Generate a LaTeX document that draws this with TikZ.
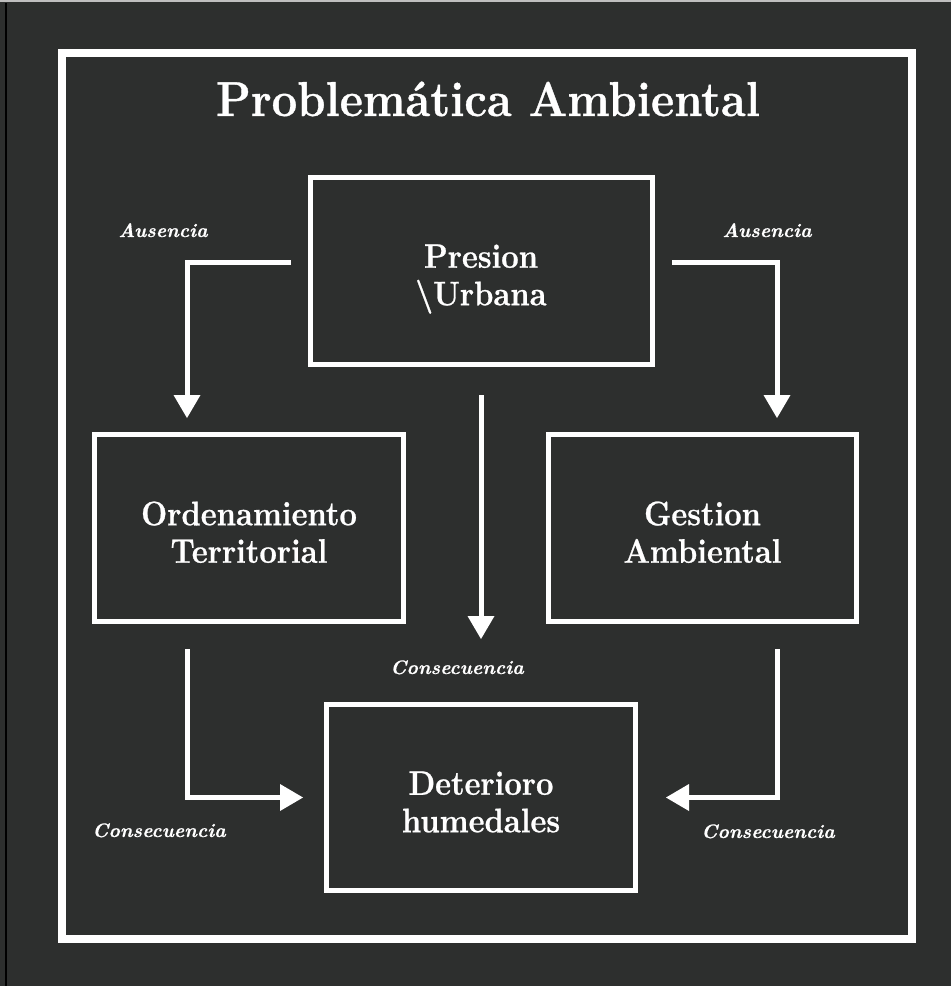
\documentclass[tikz,border=0pt]{standalone}
\usepackage{graphicx}
\usepackage{fontspec}
\setmainfont{Latin Modern Roman}[BoldFeatures={FakeBold=0.8},BoldItalicFeatures={FakeBold=0.5}]
\usetikzlibrary{arrows.meta,calc}
\definecolor{bgc}{HTML}{2D2F2E}
\newcommand\mylbl[1]{\raisebox{-8.5pt}[\height][\depth]{\scalebox{0.91}[1]{\begin{tabular}{@{}c@{}}#1\end{tabular}}}}
\tikzset{
  boxnode/.style={draw=white, line width=5pt, outer sep=0pt, inner sep=0pt,
    minimum width=309pt, minimum height=187pt, text=white, align=center,
    font=\fontsize{34}{37.5}\selectfont\bfseries},
  arr/.style={draw=white, line width=5pt, line join=miter,
    -{Triangle[width=27pt,length=23pt,line width=0pt]}},
  lbl/.style={text=white, anchor=base, inner sep=0pt,
    font=\fontsize{19.5}{22}\selectfont\bfseries\itshape}
}
\begin{document}
\begin{tikzpicture}[x=1pt,y=-1pt]
\fill[bgc] (0,0) rectangle (951,986);
\useasboundingbox (0,0) rectangle (951,986);
\draw[black, line width=1.5pt] (6,3) -- (6,986);
\draw[gray!50, line width=2.5pt] (0,1.2) -- (951,1.2);
\node[draw=white, line width=8pt, minimum width=850pt, minimum height=886pt, inner sep=0pt] (frame) at (487,496) {};
\node[text=white, anchor=base, inner sep=0pt] (title) at (488,116)
  {\scalebox{0.925}[1]{\fontsize{49}{55}\selectfont\bfseries Problemática Ambiental}};
\node[boxnode, minimum width=342pt] (pres) at (481,270.5) {\mylbl{Presion\\\textbackslash Urbana}};
\node[boxnode] (ord) at (249,528) {\mylbl{Ordenamiento\\Territorial}};
\node[boxnode, minimum width=308pt] (gest) at (702.5,528) {\mylbl{Gestion\\Ambiental}};
\node[boxnode, minimum height=186pt] (det) at (481,797.5) {\mylbl{Deterioro\\humedales}};
\draw[arr] ([xshift=-19pt,yshift=8.5pt]pres.west) -| ([xshift=-62pt,yshift=16.5pt]ord.north);
\draw[arr] ([xshift=20pt,yshift=8.5pt]pres.east) -| ([xshift=74.5pt,yshift=16.5pt]gest.north);
\draw[arr] ([yshift=-31pt]pres.south) -- ([yshift=65.5pt]det.north);
\draw[arr] ([xshift=-62pt,yshift=-27.5pt]ord.south) |- ([xshift=-23.5pt]det.west);
\draw[arr] ([xshift=74.5pt,yshift=-27.5pt]gest.south) |- ([xshift=30.5pt]det.east);
\node[lbl] (l1) at (163,237) {Ausencia};
\node[lbl] (l2) at (767,237) {Ausencia};
\node[lbl] (l3) at (457,674) {Consecuencia};
\node[lbl] (l4) at (159,837) {Consecuencia};
\node[lbl] (l5) at (768,838) {Consecuencia};
\end{tikzpicture}
\end{document}
